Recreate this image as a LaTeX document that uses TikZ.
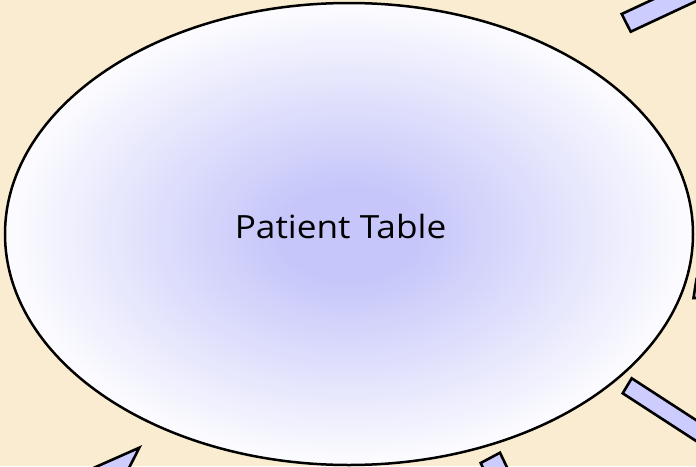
\documentclass[tikz,border=0pt]{standalone}
\usepackage{fontspec}
\setmainfont{Open Sans}
\newfontfamily\labelfont[FakeStretch=1.1]{Open Sans}
\begin{document}
\begin{tikzpicture}[x=1pt,y=-1pt]
\definecolor{parch}{RGB}{250,236,208}
\definecolor{barblue}{RGB}{204,204,255}
\definecolor{centerblue}{RGB}{198,198,250}
\pgfdeclareradialshading{tablefade}{\pgfpoint{0bp}{0bp}}{%
  color(0bp)=(centerblue); color(5bp)=(centerblue); color(26bp)=(white); color(50bp)=(white)}
\tikzset{
  barshape/.style={fill=barblue, draw=black, line width=2.6pt, line join=miter},
  tableshape/.style={draw=black, line width=2.5pt, shading=tablefade}
}
\useasboundingbox (0,0) rectangle (696,466);
\clip (0,0) rectangle (696,466);
\fill[parch] (0,0) rectangle (696,466);
% bars partly outside the frame
\draw[barshape] (621.7,14) -- (630.7,31.7) -- (766.6,-31.7) -- (757.6,-49.4) -- cycle;
\draw[barshape] (693.5,298) -- (696.5,279) -- (730,279) -- (730,298) -- cycle;
\draw[barshape] (631.7,378.3) -- (622.7,393.3) -- (748.5,475) -- (757.5,460) -- cycle;
\draw[barshape] (480.7,463) -- (500,452.7) -- (517.2,488.7) -- (497.9,499) -- cycle;
\draw[barshape] (139.3,447.7) -- (66.4,480) -- (122.9,480) -- cycle;
% the table ellipse
\path[tableshape] (349,234) ellipse [x radius=344, y radius=231];
\node[anchor=base, font=\labelfont\fontsize{32}{38}\selectfont, inner sep=0pt] (label) at (340.5,238.3) {Patient Table};
\end{tikzpicture}
\end{document}
